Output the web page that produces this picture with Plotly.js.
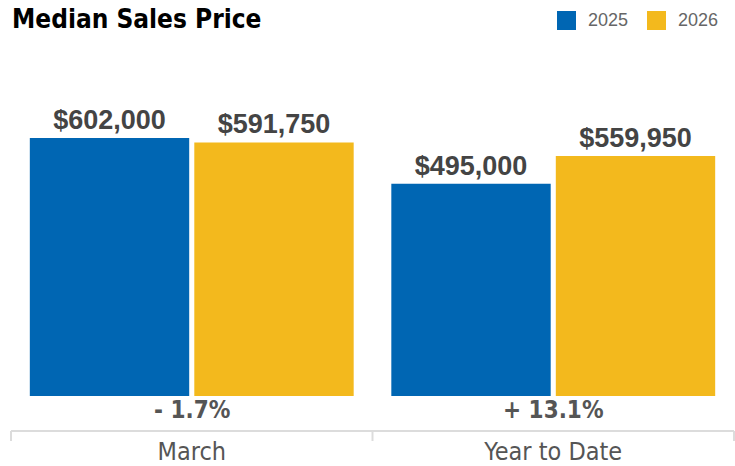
<!DOCTYPE html>
<html>
<head>
<meta charset="utf-8">
<script src="https://cdn.plot.ly/plotly-3.0.1.min.js"></script>
<style>html,body{margin:0;padding:0;background:#fff;}#chart{width:735px;height:466px;}</style>
</head>
<body>
<div id="chart"></div>
<script>
const categories = ["March", "Year to Date"];
const seriesNames = ["2025", "2026"];
const values2025 = [602000, 495000];
const values2026 = [591750, 559950];
const changeLabels = ["- 1.7%", "+ 13.1%"];

const colors = ["#0066b3", "#f3b91d"];
const narrow = "'DejaVu Sans Condensed', 'Liberation Sans', Arial, sans-serif";
const sans = "'Liberation Sans', Arial, Helvetica, sans-serif";

const fmt = v => "$" + v.toLocaleString("en-US");

const traces = [values2025, values2026].map((vals, i) => ({
  type: "bar",
  name: seriesNames[i],
  x: categories,
  y: vals,
  marker: {color: colors[i]},
  text: vals.map(fmt),
  texttemplate: "%{text}",
  textposition: "outside",
  textfont: {family: sans, size: 27, color: "#444", weight: "bold"},
  cliponaxis: false,
  hoverinfo: "skip"
}));

const annotations = changeLabels.map((t, i) => ({
  xref: "x", yref: "paper", x: categories[i], y: -0.047,
  text: "<b>" + t + "</b>", showarrow: false, yanchor: "middle",
  font: {family: narrow, size: 24, color: "#555"}
}));

// legend (custom)
const legendItems = [{x0: 557, tx: 586}, {x0: 647, tx: 676}];
const shapes = [];
legendItems.forEach((it, i) => {
  shapes.push({type: "rect", xref: "paper", yref: "paper",
    x0: (it.x0 - 11) / 723, x1: (it.x0 + 19 - 11) / 723,
    y0: 1 + (96 - 30) / 300, y1: 1 + (96 - 11) / 300,
    fillcolor: colors[i], line: {width: 0}});
  annotations.push({xref: "paper", yref: "paper", x: (it.tx - 11) / 723, y: 1 + (96 - 20.5) / 300,
    xanchor: "left", yanchor: "middle", showarrow: false, text: seriesNames[i],
    font: {family: sans, size: 18, color: "#666"}});
});
// bottom axis line and dividers
shapes.push({type: "line", xref: "paper", yref: "paper", x0: 0, x1: 1, y0: -0.1167, y1: -0.1167,
  line: {color: "#dcdcdc", width: 2}});
[0, 0.5, 1].forEach(p => shapes.push({type: "line", xref: "paper", yref: "paper",
  x0: p, x1: p, y0: -0.1167, y1: -0.15, line: {color: "#dcdcdc", width: 2}}));

const layout = {
  width: 735, height: 466,
  margin: {l: 11, r: 1, t: 96, b: 70},
  paper_bgcolor: "#fff", plot_bgcolor: "#fff",
  showlegend: false,
  barmode: "group", bargap: 0.09, bargroupgap: 0.031,
  title: {text: "<b>Median Sales Price</b>", x: 12 / 735, xref: "container", xanchor: "left",
    y: 0.978, yref: "container", yanchor: "top",
    font: {family: narrow, size: 26, color: "#000"}},
  xaxis: {showline: false, showgrid: false, zeroline: false, ticks: "",
    ticklabelstandoff: 38,
    tickfont: {family: narrow, size: 25, color: "#555"}},
  yaxis: {range: [0, 700000], visible: false, showgrid: false, zeroline: false},
  annotations: annotations,
  shapes: shapes
};

Plotly.newPlot("chart", traces, layout, {displayModeBar: false, staticPlot: true});
</script>
</body>
</html>
